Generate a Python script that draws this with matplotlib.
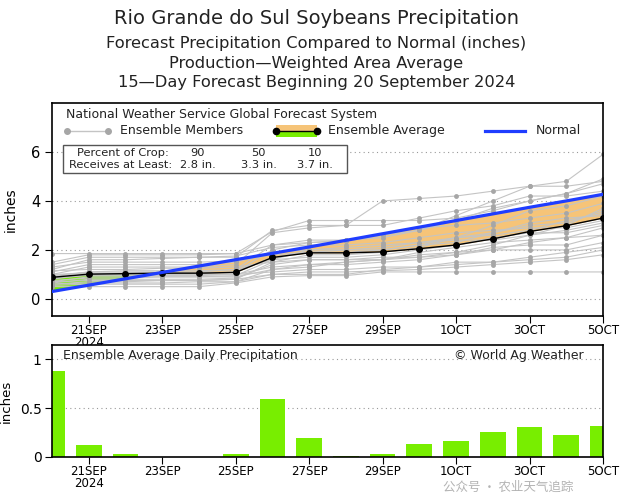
import matplotlib
matplotlib.use("Agg")
import matplotlib.pyplot as plt
import numpy as np

# days since 20 Sep 2024
days = list(range(16))
tick_days = [1, 3, 5, 7, 9, 11, 13, 15]
tick_labels = ["21SEP\n2024", "23SEP", "25SEP", "27SEP", "29SEP", "1OCT", "3OCT", "5OCT"]

ens_avg = [0.88, 1.01, 1.03, 1.05, 1.05, 1.08, 1.69, 1.88, 1.88, 1.92, 2.05, 2.20, 2.45, 2.75, 2.99, 3.30]
normal = [0.30, 0.56, 0.82, 1.08, 1.34, 1.60, 1.86, 2.12, 2.39, 2.66, 2.93, 3.20, 3.47, 3.74, 4.00, 4.27]
daily = [0.88, 0.125, 0.03, 0.005, 0.005, 0.035, 0.595, 0.19, 0.01, 0.03, 0.13, 0.16, 0.26, 0.31, 0.22, 0.32]

members = [
    [1.85, 1.85, 1.85, 1.85, 1.85, 1.85, 2.2, 2.3, 2.35, 2.6, 2.8, 3.4, 4.0, 4.6, 4.8, 5.9],
    [1.5, 1.8, 1.8, 1.8, 1.8, 1.85, 2.75, 3.2, 3.2, 3.2, 3.2, 3.3, 3.6, 4.0, 4.3, 4.7],
    [1.2, 1.6, 1.6, 1.65, 1.7, 1.7, 2.8, 3.0, 3.0, 3.0, 3.3, 3.6, 3.8, 4.2, 4.2, 4.4],
    [1.0, 1.3, 1.3, 1.3, 1.3, 1.4, 2.7, 2.9, 3.0, 4.0, 4.1, 4.2, 4.4, 4.6, 4.6, 4.8],
    [0.9, 1.1, 1.1, 1.1, 1.1, 1.2, 2.2, 2.4, 2.4, 2.5, 2.8, 3.2, 3.7, 4.0, 4.3, 4.9],
    [0.8, 1.0, 1.05, 1.05, 1.05, 1.1, 2.0, 2.3, 2.4, 2.6, 2.9, 3.0, 3.1, 3.3, 3.5, 3.9],
    [0.7, 0.9, 0.9, 0.9, 0.9, 0.95, 1.6, 2.0, 2.1, 2.2, 2.3, 2.5, 3.0, 3.6, 3.8, 4.2],
    [0.6, 0.7, 0.7, 0.75, 0.75, 0.8, 1.5, 1.8, 1.8, 1.9, 2.1, 2.5, 2.6, 2.8, 3.2, 3.5],
    [0.5, 0.5, 0.5, 0.5, 0.5, 0.65, 0.9, 0.95, 0.95, 1.1, 1.1, 1.1, 1.1, 1.1, 1.1, 1.1],
    [0.55, 0.6, 0.6, 0.6, 0.6, 0.7, 1.0, 1.0, 1.0, 1.2, 1.3, 1.4, 1.5, 1.6, 1.7, 2.0],
    [0.9, 1.0, 1.0, 1.0, 1.0, 1.0, 1.3, 1.4, 1.4, 1.5, 1.6, 1.8, 2.1, 2.2, 2.2, 2.6],
    [1.1, 1.4, 1.4, 1.4, 1.4, 1.5, 1.9, 2.0, 2.0, 2.1, 2.3, 2.4, 2.4, 2.6, 2.8, 3.1],
    [1.3, 1.5, 1.5, 1.5, 1.5, 1.55, 1.8, 1.9, 1.9, 2.0, 2.2, 2.5, 2.7, 3.0, 3.1, 3.6],
    [0.75, 0.85, 0.85, 0.9, 0.9, 0.9, 1.2, 1.3, 1.5, 1.6, 1.8, 1.9, 2.0, 2.0, 2.0, 2.3],
    [1.0, 1.05, 1.05, 1.05, 1.05, 1.1, 1.7, 1.9, 2.0, 2.0, 2.2, 2.3, 2.7, 3.1, 3.3, 3.4],
    [0.65, 0.8, 0.8, 0.8, 0.8, 0.85, 1.4, 1.6, 1.6, 1.7, 1.7, 1.8, 2.0, 2.3, 2.5, 2.9],
    [1.4, 1.7, 1.7, 1.7, 1.7, 1.75, 2.1, 2.2, 2.2, 2.3, 2.5, 2.7, 2.8, 2.9, 2.9, 3.2],
    [0.85, 0.95, 0.95, 0.95, 0.95, 1.0, 1.1, 1.2, 1.2, 1.3, 1.3, 1.5, 1.5, 1.7, 1.9, 2.1],
    [1.15, 1.2, 1.2, 1.25, 1.25, 1.3, 1.5, 1.6, 1.6, 1.6, 1.7, 1.9, 2.2, 2.6, 3.0, 3.7],
    [0.6, 0.65, 0.65, 0.65, 0.7, 0.7, 1.2, 1.4, 1.5, 1.6, 1.9, 2.1, 2.3, 2.4, 2.5, 2.6],
    [0.95, 1.1, 1.15, 1.15, 1.15, 1.2, 1.6, 1.7, 1.7, 1.8, 2.0, 2.2, 2.5, 2.7, 2.7, 3.0],
    [0.7, 0.75, 0.75, 0.75, 0.75, 0.8, 1.0, 1.1, 1.1, 1.15, 1.2, 1.3, 1.4, 1.5, 1.6, 1.8],
]

crop_pct = ["90", "50", "10"]
crop_amt = ["2.8 in.", "3.3 in.", "3.7 in."]

GREEN = "#78ee00"
ORANGE = "#f6c478"
BLUE = "#1f3dff"
GRAY_LINE = "#c4c4c4"
GRAY_DOT = "#a6a6a6"
TXT = "#222222"

plt.rcParams["font.family"] = ["DejaVu Sans"]

fig = plt.figure(figsize=(6.33, 4.94), dpi=100)
fig.patch.set_facecolor("white")

# titles
fig.text(0.5, 0.962, "Rio Grande do Sul Soybeans Precipitation", ha="center", va="center", fontsize=14, color=TXT)
fig.text(0.5, 0.912, "Forecast Precipitation Compared to Normal (inches)", ha="center", va="center", fontsize=11.7, color=TXT)
fig.text(0.5, 0.872, "Production\u2014Weighted Area Average", ha="center", va="center", fontsize=11.7, color=TXT)
fig.text(0.5, 0.833, "15\u2014Day Forecast Beginning 20 September 2024", ha="center", va="center", fontsize=11.7, color=TXT)

ax = fig.add_axes([0.0821, 0.3603, 0.8705, 0.4312])
ax2 = fig.add_axes([0.0821, 0.0749, 0.8705, 0.2267])

# ---- top panel: cumulative precip
x = np.array(days, dtype=float)
avg = np.array(ens_avg)
nrm = np.array(normal)
ax.fill_between(x, avg, nrm, where=avg >= nrm, interpolate=True, color=GREEN, lw=0, zorder=1)
ax.fill_between(x, avg, nrm, where=avg < nrm, interpolate=True, color=ORANGE, lw=0, zorder=1)
for m in members:
    ax.plot(x, m, color=GRAY_LINE, lw=0.8, zorder=2)
    ax.plot(x, m, ls="none", marker="o", ms=3.5, color=GRAY_DOT, mec="none", zorder=2)
ax.plot(x, avg, color="black", lw=1.0, marker="o", ms=4, zorder=4)
ax.plot(x, nrm, color=BLUE, lw=2.3, zorder=5)

ax.set_xlim(0, 15)
ax.set_ylim(-0.7, 8.0)
ax.set_yticks([0, 2, 4, 6])
ax.set_xticks(tick_days)
ax.set_xticklabels(tick_labels, fontsize=8.5, linespacing=0.9)
ax.tick_params(axis="y", labelsize=10.5, direction="out", length=5)
ax.tick_params(axis="x", direction="out", length=5, pad=1)
ax.set_ylabel("inches", fontsize=10)
ax.yaxis.set_label_coords(-0.062, 0.5)
for yv in [0, 2, 4, 6]:
    ax.axhline(yv, color="#999999", lw=0.8, ls=(0, (1, 3)), zorder=0)
for s in ax.spines.values():
    s.set_linewidth(1.2)

# legend-ish annotations
ax.text(0.025, 0.944, "National Weather Service Global Forecast System", transform=ax.transAxes,
        fontsize=9, va="center", zorder=6, color=TXT)
ly = 0.869
ax.plot([0.027, 0.102], [ly, ly], transform=ax.transAxes, color=GRAY_LINE, lw=1.0, clip_on=False, zorder=6)
ax.plot([0.027, 0.102], [ly, ly], transform=ax.transAxes, ls="none", marker="o", ms=4, color=GRAY_DOT,
        clip_on=False, zorder=6)
ax.text(0.123, ly, "Ensemble Members", transform=ax.transAxes, fontsize=9, va="center", zorder=6, color=TXT)
ax.fill_between([0.407, 0.481], [ly, ly], [ly + 0.028, ly + 0.028], transform=ax.transAxes, color=ORANGE,
                lw=0, zorder=6)
ax.fill_between([0.407, 0.481], [ly - 0.028, ly - 0.028], [ly, ly], transform=ax.transAxes, color=GREEN,
                lw=0, zorder=6)
ax.plot([0.407, 0.481], [ly, ly], transform=ax.transAxes, color="black", lw=1.0, marker="o", ms=4.5,
        clip_on=False, zorder=7)
ax.text(0.501, ly, "Ensemble Average", transform=ax.transAxes, fontsize=9, va="center", zorder=6, color=TXT)
ax.plot([0.786, 0.858], [ly, ly], transform=ax.transAxes, color=BLUE, lw=2.3, clip_on=False, zorder=6)
ax.text(0.878, ly, "Normal", transform=ax.transAxes, fontsize=9, va="center", zorder=6, color=TXT)

# crop box
ax.add_patch(plt.Rectangle((0.02, 0.671), 0.515, 0.132, transform=ax.transAxes, facecolor="white",
                           edgecolor="#555555", lw=1.0, zorder=6))
ax.text(0.046, 0.765, "Percent of Crop:", transform=ax.transAxes, fontsize=8.2, ha="left", va="center",
        zorder=7, color=TXT)
ax.text(0.031, 0.709, "Receives at Least:", transform=ax.transAxes, fontsize=8.2, ha="left", va="center",
        zorder=7, color=TXT)
for cx, p, a in zip([0.265, 0.375, 0.478], crop_pct, crop_amt):
    ax.text(cx, 0.765, p, transform=ax.transAxes, fontsize=8.2, ha="center", va="center", zorder=7, color=TXT)
    ax.text(cx, 0.709, a, transform=ax.transAxes, fontsize=8.2, ha="center", va="center", zorder=7, color=TXT)

# ---- bottom panel: daily precip
ax2.bar(x, daily, width=0.7, color=GREEN, zorder=2)
ax2.set_xlim(0, 15)
ax2.set_ylim(0, 1.143)
ax2.set_yticks([0, 0.5, 1])
ax2.set_yticklabels(["0", "0.5", "1"])
ax2.set_xticks(tick_days)
ax2.set_xticklabels(tick_labels, fontsize=8.5, linespacing=0.9)
ax2.tick_params(axis="y", labelsize=10, direction="out", length=5, pad=2.5)
ax2.tick_params(axis="x", direction="out", length=5, pad=1)
ax2.set_ylabel("inches", fontsize=9.5)
ax2.yaxis.set_label_coords(-0.072, 0.5)
for yv in [0.5, 1.0]:
    ax2.axhline(yv, color="#999999", lw=0.8, ls=(0, (1, 3)), zorder=0)
for s in ax2.spines.values():
    s.set_linewidth(1.2)
ax2.text(0.02, 0.905, "Ensemble Average Daily Precipitation", transform=ax2.transAxes, fontsize=9,
         va="center", zorder=6, color=TXT)
ax2.text(0.965, 0.905, "\u00a9 World Ag Weather", transform=ax2.transAxes, fontsize=9, ha="right",
         va="center", zorder=6, color=TXT)

# watermark
fig.text(0.70, 0.013, "\u516c\u4f17\u53f7 \u00b7 \u519c\u4e1a\u5929\u6c14\u8ffd\u8e2a", ha="left", va="center",
         fontsize=9, color="#9a9a9a", alpha=0.75, family=["Noto Sans CJK SC", "DejaVu Sans"])

fig.savefig("out.png", dpi=100, facecolor="white")
plt.close(fig)
